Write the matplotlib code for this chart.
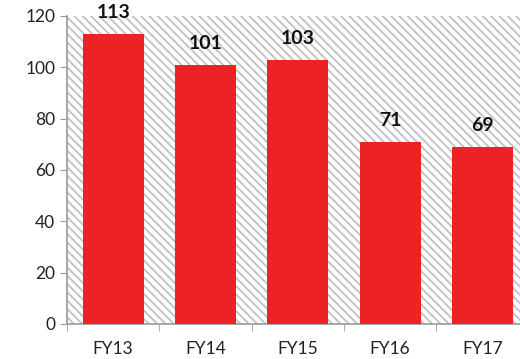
import numpy as np
import matplotlib.pyplot as plt

years = ["FY13", "FY14", "FY15", "FY16", "FY17"]
values = [113, 101, 103, 71, 69]
yticks = [0, 20, 40, 60, 80, 100, 120]

plt.rcParams["font.family"] = ["Lato", "DejaVu Sans"]
plt.rcParams["hatch.color"] = "#c2c2c2"
plt.rcParams["hatch.linewidth"] = 1.3

fig = plt.figure(figsize=(5.2, 3.59), dpi=100)
ax = fig.add_axes([0.129, 0.0975, 0.8875, 0.858])

# striped backdrop
ax.patch.set_facecolor("white")
ax.patch.set_hatch("\\\\\\\\")
ax.patch.set_edgecolor("#c2c2c2")
ax.patch.set_linewidth(0)

x = np.arange(len(years))
bars = ax.bar(x, values, width=0.66, color="#ec2224", zorder=3)

for b, v in zip(bars, values):
    ax.annotate(str(v), (b.get_x() + b.get_width() / 2, v),
                xytext=(0, 9), textcoords="offset points",
                ha="center", va="bottom", fontsize=14, fontweight="bold",
                color="#111111")

ax.set_xlim(-0.5, len(years) - 0.5)
ax.set_ylim(0, 120)
ax.set_yticks(yticks)
ax.set_yticklabels([str(t) for t in yticks], fontsize=12.5, color="#222222")

# category labels centred, ticks on the boundaries
ax.set_xticks(x)
ax.set_xticklabels(years, fontsize=12.5, color="#222222")
ax.tick_params(axis="x", length=0, pad=12)
ax.set_xticks(np.arange(-0.5, len(years)), minor=True)
ax.tick_params(axis="x", which="minor", length=5, color="#9a9a9a")
ax.tick_params(axis="y", length=5, color="#9a9a9a")

for s in ["top", "right"]:
    ax.spines[s].set_visible(False)
for s in ["left", "bottom"]:
    ax.spines[s].set_color("#9a9a9a")
    ax.spines[s].set_linewidth(1.2)

fig.savefig("out.png", dpi=100)
